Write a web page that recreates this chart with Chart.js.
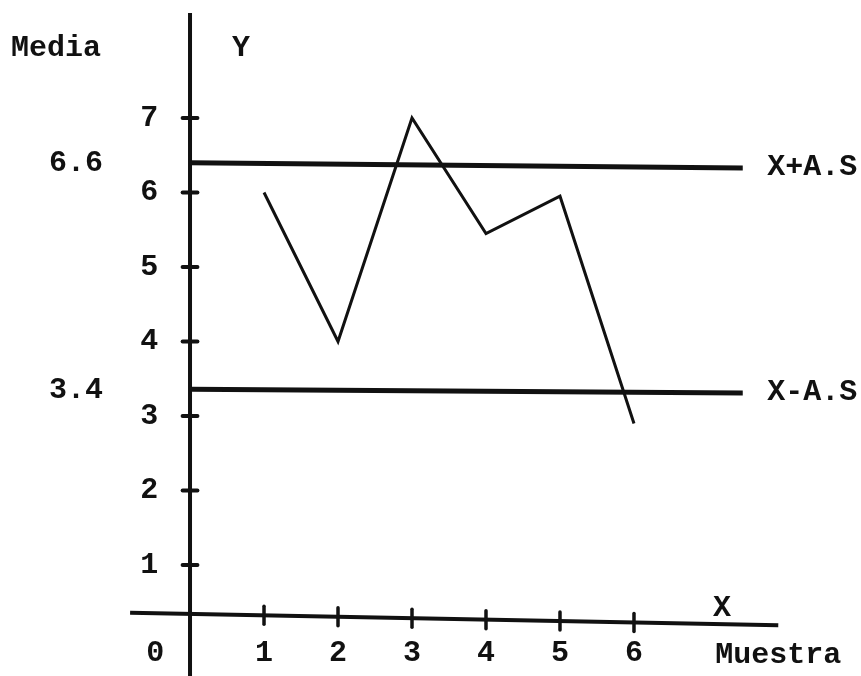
<!DOCTYPE html>
<html>
<head>
<meta charset="utf-8">
<script src="https://cdn.jsdelivr.net/npm/chart.js@4.4.1/dist/chart.umd.min.js"></script>
<style>
    html, body { margin: 0; padding: 0; background: #fff; }
    #chart { display: block; }
</style>
</head>
<body>
<canvas id="chart" width="861" height="676"></canvas>
<script>
// Muestras y medias
const muestras = [1, 2, 3, 4, 5, 6];
const medias = [6, 4, 7, 5.45, 5.95, 2.9];
const yTicks = [1, 2, 3, 4, 5, 6, 7];

// Limites de control (valor rotulado y altura dibujada a cada extremo)
const limitNames = ['X+A.S', 'X-A.S'];
const limitLabels = ['6.6', '3.4'];
const limitLeft = [6.4, 3.36];
const limitRight = [6.33, 3.31];
const limitEnd = 7.47;

// Ejes dibujados a mano (ligeramente inclinado el eje X)
const xAxisFrom = [-0.81, 0.36];
const xAxisTo = [7.95, 0.19];
const yAxisRange = [-0.5, 8.41];

const INK = '#111';
const FONT = 'bold 30px "Liberation Mono", "DejaVu Sans Mono", monospace';

function seg(a, b) {
    return [{ x: a[0], y: a[1] }, { x: b[0], y: b[1] }];
}

const datasets = [
    {
        data: muestras.map((m, i) => ({ x: m, y: medias[i] })),
        borderWidth: 3
    },
    {
        data: seg([0, limitLeft[0]], [limitEnd, limitRight[0]]),
        borderWidth: 5
    },
    {
        data: seg([0, limitLeft[1]], [limitEnd, limitRight[1]]),
        borderWidth: 5
    },
    {
        data: seg(xAxisFrom, xAxisTo),
        borderWidth: 4
    },
    {
        data: seg([0, yAxisRange[0]], [0, yAxisRange[1]]),
        borderWidth: 4
    }
].map(ds => Object.assign({
    showLine: true,
    borderColor: INK,
    pointRadius: 0,
    tension: 0,
    fill: false
}, ds));

// Ticks and text drawn through the chart's own scales
const labelsPlugin = {
    id: 'handLabels',
    afterDatasetsDraw(chart) {
        const ctx = chart.ctx;
        const sx = chart.scales.x;
        const sy = chart.scales.y;
        const px = v => sx.getPixelForValue(v);
        const py = v => sy.getPixelForValue(v);

        ctx.save();
        ctx.strokeStyle = INK;
        ctx.lineCap = 'round';

        // y ticks
        ctx.lineWidth = 4;
        yTicks.forEach(t => {
            ctx.beginPath();
            ctx.moveTo(px(-0.1), py(t));
            ctx.lineTo(px(0.1), py(t));
            ctx.stroke();
        });

        // x ticks (follow the tilted axis)
        const axisY = x => xAxisFrom[1] + (xAxisTo[1] - xAxisFrom[1]) * (x - xAxisFrom[0]) / (xAxisTo[0] - xAxisFrom[0]);
        ctx.lineWidth = 3.5;
        muestras.forEach(m => {
            const yy = py(axisY(m));
            ctx.beginPath();
            ctx.moveTo(px(m), yy - 9);
            ctx.lineTo(px(m), yy + 9);
            ctx.stroke();
        });

        ctx.fillStyle = INK;
        ctx.font = FONT;
        ctx.textBaseline = 'middle';

        // y tick labels
        ctx.textAlign = 'right';
        yTicks.forEach(t => ctx.fillText(String(t), px(-0.43), py(t)));

        // x tick labels
        ctx.textAlign = 'center';
        muestras.forEach(m => ctx.fillText(String(m), px(m), py(-0.19)));
        ctx.fillText('0', px(-0.47), py(-0.19));

        // limit labels
        limitLabels.forEach((l, i) => ctx.fillText(l, px(-1.54), py(limitLeft[i]) + 1));
        ctx.textAlign = 'left';
        limitNames.forEach((n, i) => ctx.fillText(n, px(7.8), py(limitRight[i])));

        // axis titles
        ctx.textAlign = 'center';
        ctx.fillText('Media', px(-1.81), py(7.94));
        ctx.fillText('Y', px(0.69), py(7.94));
        ctx.fillText('X', px(7.19), py(0.42));
        ctx.fillText('Muestra', px(7.95), py(-0.21));

        ctx.restore();
    }
};

new Chart(document.getElementById('chart'), {
    type: 'scatter',
    data: { datasets: datasets },
    options: {
        responsive: false,
        animation: false,
        layout: { padding: 0 },
        plugins: {
            legend: { display: false },
            tooltip: { enabled: false }
        },
        scales: {
            x: { type: 'linear', display: false, min: -2.568, max: 9.068 },
            y: { type: 'linear', display: false, min: -0.49, max: 8.584 }
        }
    },
    plugins: [labelsPlugin]
});
</script>
</body>
</html>
